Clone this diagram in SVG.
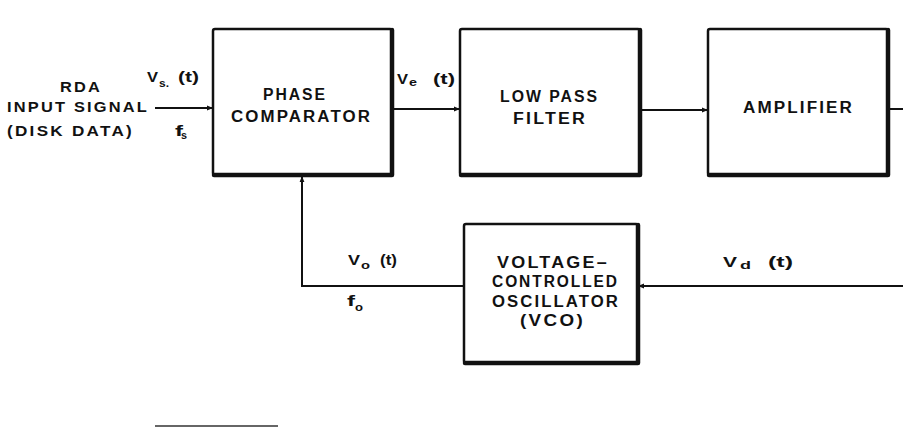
<svg xmlns="http://www.w3.org/2000/svg" width="903" height="432" viewBox="0 0 903 432">
<defs>
<marker id="ah" viewBox="0 0 10 10" refX="10" refY="5" markerWidth="9" markerHeight="6" markerUnits="userSpaceOnUse" orient="auto">
<path d="M0,1 L10,5 L0,9 Z" fill="#111"/>
</marker>
<style>
.box{fill:#fff;stroke:#111;stroke-width:2.5}
.sh{fill:none;stroke:#111;stroke-width:4.5;stroke-linecap:round;stroke-linejoin:round}
.ln{fill:none;stroke:#111;stroke-width:2}
.t{font-family:"Liberation Sans",Arial,sans-serif;font-weight:bold;font-size:16px;fill:#111}
.w{letter-spacing:2px}
.m{font-size:15px}
.s{font-size:14px}
.sub{font-size:11px}
</style>
</defs>
<rect width="903" height="432" fill="#fff"/>
<g id="connectors">
<line class="ln" x1="155" y1="108" x2="213" y2="108" marker-end="url(#ah)"/>
<line class="ln" x1="392" y1="109" x2="460" y2="109" marker-end="url(#ah)"/>
<line class="ln" x1="640" y1="110" x2="708" y2="110" marker-end="url(#ah)"/>
<line class="ln" x1="888" y1="109" x2="903" y2="109"/>
<line class="ln" x1="903" y1="286" x2="638" y2="286" marker-end="url(#ah)"/>
<polyline class="ln" points="464,286 302,286 302,176" marker-end="url(#ah)"/>
</g>
<g id="input-label">
<text class="t m w" x="60" y="92" textLength="42" lengthAdjust="spacingAndGlyphs">RDA</text>
<text class="t m w" x="7" y="112" textLength="142" lengthAdjust="spacingAndGlyphs">INPUT SIGNAL</text>
<text class="t m w" x="7" y="136" textLength="127" lengthAdjust="spacingAndGlyphs">(DISK DATA)</text>
</g>
<g id="vs-label">
<text class="t s" x="147" y="82" textLength="11" lengthAdjust="spacingAndGlyphs">V</text>
<text class="t sub" x="159" y="87" textLength="10" lengthAdjust="spacingAndGlyphs">s.</text>
<text class="t s" x="178" y="82" textLength="21" lengthAdjust="spacingAndGlyphs">(t)</text>
<text class="t s" x="175" y="136" textLength="8" lengthAdjust="spacingAndGlyphs">f</text>
<text class="t sub" x="181" y="139" textLength="6" lengthAdjust="spacingAndGlyphs">s</text>
</g>
<g id="phase-comparator">
<rect class="box" x="213" y="29" width="179" height="146" rx="2"/>
<polyline class="sh" points="392,30 392,175 214,175"/>
<text class="t w" x="263" y="100" textLength="64" lengthAdjust="spacingAndGlyphs">PHASE</text>
<text class="t w" x="231" y="122" textLength="141" lengthAdjust="spacingAndGlyphs">COMPARATOR</text>
</g>
<g id="ve-label">
<text class="t s" x="397" y="84" textLength="11" lengthAdjust="spacingAndGlyphs">V</text>
<text class="t sub" x="409" y="86" textLength="8" lengthAdjust="spacingAndGlyphs">e</text>
<text class="t s" x="433" y="84" textLength="22" lengthAdjust="spacingAndGlyphs">(t)</text>
</g>
<g id="low-pass-filter">
<rect class="box" x="460" y="29" width="180" height="146" rx="2"/>
<polyline class="sh" points="640,30 640,175 461,175"/>
<text class="t w" x="500" y="102" textLength="99" lengthAdjust="spacingAndGlyphs">LOW PASS</text>
<text class="t w" x="513" y="124" textLength="74" lengthAdjust="spacingAndGlyphs">FILTER</text>
</g>
<g id="amplifier">
<rect class="box" x="708" y="29" width="180" height="146" rx="2"/>
<polyline class="sh" points="888,30 888,175 709,175"/>
<text class="t w" x="743" y="113" textLength="111" lengthAdjust="spacingAndGlyphs">AMPLIFIER</text>
</g>
<g id="vco">
<rect class="box" x="464" y="224" width="174" height="139" rx="2"/>
<polyline class="sh" points="638,225 638,363 465,363"/>
<text class="t w" x="497" y="268" textLength="112" lengthAdjust="spacingAndGlyphs">VOLTAGE–</text>
<text class="t w" x="492" y="287" textLength="127" lengthAdjust="spacingAndGlyphs">CONTROLLED</text>
<text class="t w" x="492" y="307" textLength="128" lengthAdjust="spacingAndGlyphs">OSCILLATOR</text>
<text class="t w" x="520" y="326" textLength="65" lengthAdjust="spacingAndGlyphs">(VCO)</text>
</g>
<g id="vd-label">
<text class="t s" x="723" y="267" textLength="14" lengthAdjust="spacingAndGlyphs">V</text>
<text class="t sub" x="740" y="269" textLength="11" lengthAdjust="spacingAndGlyphs">d</text>
<text class="t s" x="768" y="267" textLength="25" lengthAdjust="spacingAndGlyphs">(t)</text>
</g>
<g id="vo-label">
<text class="t s" x="348" y="265" textLength="12" lengthAdjust="spacingAndGlyphs">V</text>
<text class="t sub" x="361" y="269" textLength="9" lengthAdjust="spacingAndGlyphs">o</text>
<text class="t s" x="380" y="265" textLength="17" lengthAdjust="spacingAndGlyphs">(t)</text>
<text class="t s" x="347" y="306" textLength="8" lengthAdjust="spacingAndGlyphs">f</text>
<text class="t sub" x="355" y="311" textLength="8" lengthAdjust="spacingAndGlyphs">o</text>
</g>
<line x1="155" y1="426" x2="278" y2="426" stroke="#333" stroke-width="1.5"/>
</svg>
